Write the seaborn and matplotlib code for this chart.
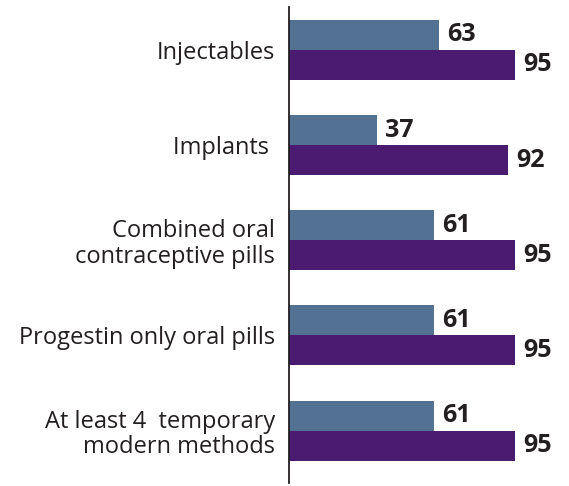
import numpy as np
import pandas as pd
import matplotlib.pyplot as plt
import seaborn as sns

methods = ['Injectables', 'Implants ', 'Combined oral\ncontraceptive pills',
           'Progestin only oral pills', 'At least 4  temporary\nmodern methods']
series_names = ['Series 1', 'Series 2']
series_1 = [63, 37, 61, 61, 61]
series_2 = [95, 92, 95, 95, 95]

df = pd.DataFrame({
    'method': methods * 2,
    'series': [series_names[0]] * 5 + [series_names[1]] * 5,
    'value': series_1 + series_2,
})

sns.set_style('white')
plt.rcParams['font.family'] = ['Open Sans', 'DejaVu Sans']

fig = plt.figure(figsize=(5.69, 4.86), dpi=100)
ax = fig.add_axes([289 / 569, 3 / 486, 1 - 289 / 569, 476 / 486])

sns.barplot(data=df, y='method', x='value', hue='series', orient='h',
            palette=['#537192', '#4a1b70'], width=0.63, saturation=1,
            linewidth=0, legend=False, ax=ax)

for cont in ax.containers:
    ax.bar_label(cont, padding=6, fontsize=18, fontweight='bold', color='#231f20')

ax.set_xlim(0, 117.7)
ax.set_ylim(4.55, -0.45)
ax.set_xlabel('')
ax.set_ylabel('')
ax.set_xticks([])
ax.tick_params(axis='y', length=0, pad=10, labelsize=17, labelcolor='#231f20')
for lbl in ax.get_yticklabels():
    lbl.set_linespacing(1.1)
for side in ['top', 'right', 'bottom']:
    ax.spines[side].set_visible(False)
ax.spines['left'].set_color('#231f20')
ax.spines['left'].set_linewidth(1.3)

plt.savefig('out.png', dpi=100)
